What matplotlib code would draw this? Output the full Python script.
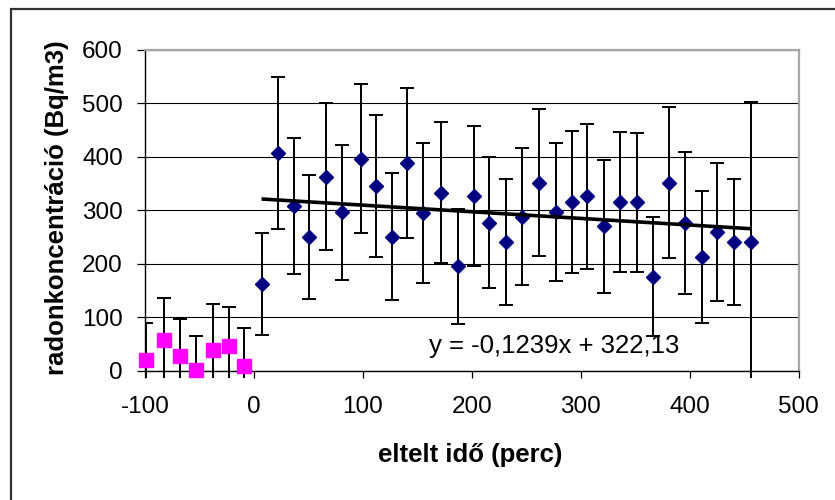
import matplotlib
matplotlib.use("Agg")
import matplotlib.pyplot as plt
from matplotlib.patches import Rectangle
import numpy as np

# Background measurements (before the start)
bg_time = [-99, -83, -68, -53, -38, -23, -9]
bg_conc = [20, 57, 27, 1, 38, 46, 9]
bg_err = [70, 79, 70, 64, 86, 74, 70]

# Measurements after the start
meas_time = [7, 22, 37, 51, 66, 81, 98, 112, 127, 141, 155, 172, 187, 202, 216,
             231, 246, 262, 277, 292, 306, 321, 336, 352, 366, 381, 396, 411,
             425, 441, 456]
meas_conc = [162, 408, 308, 251, 363, 296, 397, 345, 251, 389, 295, 333, 195,
             326, 277, 240, 288, 352, 297, 315, 326, 270, 315, 315, 176, 352,
             277, 213, 259, 240, 240]
meas_err = [95, 142, 128, 116, 137, 127, 140, 133, 118, 140, 131, 132, 108,
            131, 122, 118, 128, 138, 129, 133, 136, 124, 131, 130, 112, 142,
            133, 124, 129, 118, 263]

# Linear trend of the measurements
slope = -0.1239
intercept = 322.13

x_ticks = [-100, 0, 100, 200, 300, 400, 500]
y_ticks = [0, 100, 200, 300, 400, 500, 600]

plt.rcParams["font.family"] = ["Liberation Sans", "DejaVu Sans"]

W, H = 835, 500
fig = plt.figure(figsize=(W / 100, H / 100), dpi=100)
fig.patch.set_facecolor("white")

# outer frame of the chart object
fig.add_artist(Rectangle((11 / W, -0.05), 1.0, (H - 9) / H + 0.05,
                         transform=fig.transFigure, fill=False,
                         edgecolor="#333333", lw=1.6))

left, right, top, bottom = 145, 798.5, 50, 370.7
ax = fig.add_axes([left / W, 1 - bottom / H, (right - left) / W, (bottom - top) / H])

ax.set_xlim(-100, 500)
ax.set_ylim(0, 600)
ax.set_xticks(x_ticks)
ax.set_yticks(y_ticks)
ax.grid(axis="y", color="black", lw=0.8)
ax.set_axisbelow(True)

for s in ("left", "bottom"):
    ax.spines[s].set_color("black")
    ax.spines[s].set_linewidth(1.0)
for s in ("top", "right"):
    ax.spines[s].set_color("#a6a6a6")
    ax.spines[s].set_linewidth(1.6)

ax.tick_params(axis="x", direction="out", length=5, width=0.9, pad=13,
               labelsize=17.5, colors="black")
ax.tick_params(axis="y", direction="out", length=6, width=0.9, pad=10,
               labelsize=17.5, colors="black")
ax.set_xticklabels([str(v) for v in x_ticks])
ax.set_yticklabels([str(v) for v in y_ticks])

# bars may run a little past the bottom axis
clip = Rectangle((0, -7 / (bottom - top)), 1, 1 + 7 / (bottom - top),
                 transform=ax.transAxes, fill=False, visible=False)
ax.add_patch(clip)


def draw_series(t, c, e, marker, color, ms):
    eb = ax.errorbar(t, c, yerr=e, fmt="none", ecolor="black", elinewidth=1.4,
                     capsize=4.7, capthick=1.4, zorder=3)
    for art in list(eb[1]) + list(eb[2]):
        art.set_clip_path(clip)
    ax.plot(t, c, linestyle="none", marker=marker, color=color,
            markeredgecolor=color, ms=ms, zorder=4, clip_on=False)


draw_series(bg_time, bg_conc, bg_err, "s", "#ff00ff", 9.5)
draw_series(meas_time, meas_conc, meas_err, "D", "#000080", 6.8)

tx = np.array([min(meas_time), max(meas_time)])
ax.plot(tx, slope * tx + intercept, color="black", lw=2.6, zorder=5,
        solid_capstyle="butt")

eq = "y = {}x + {}".format(f"{slope:.4f}".replace(".", ","),
                           f"{intercept:.2f}".replace(".", ","))
ax.text(161, 33, eq, fontsize=18.5, ha="left", va="baseline", color="black",
        zorder=6)

fig.text(470 / W, 1 - 455 / H, "eltelt idő (perc)", fontsize=18.5,
         fontweight="bold", ha="center", va="center")
fig.text(57 / W, 1 - 208 / H, "radonkoncentráció (Bq/m3)", fontsize=18.5,
         fontweight="bold", ha="center", va="center", rotation=90)

fig.savefig("out.png", dpi=100, facecolor="white")
